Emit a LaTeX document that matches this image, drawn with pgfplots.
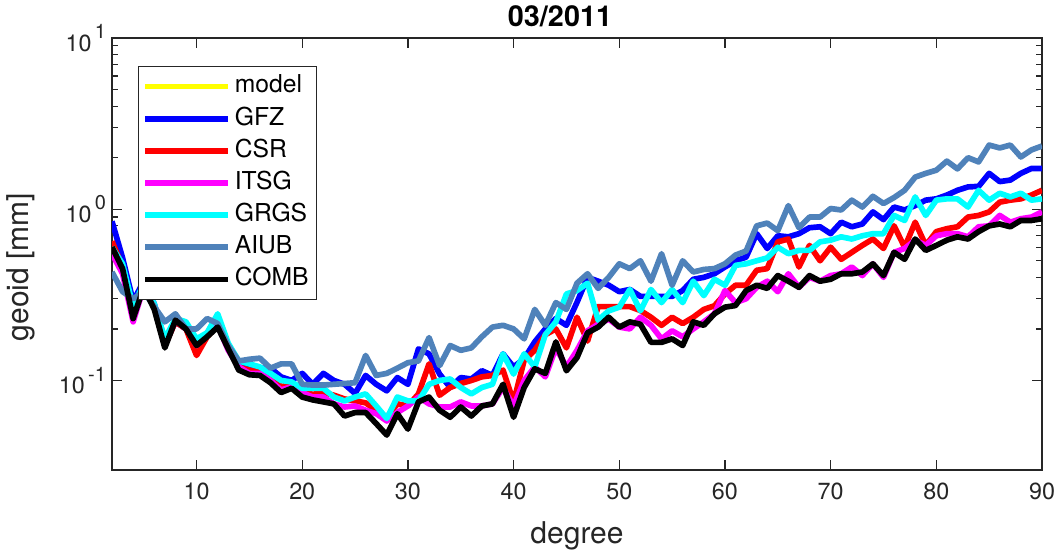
\documentclass[border=0pt]{standalone}
\usepackage{fontspec}
\setmainfont{TeX Gyre Heros}
\usepackage{pgfplots}
\usepackage{pgfplotstable}
\pgfplotsset{compat=1.18}
\definecolor{aiub}{rgb}{0.31,0.51,0.73}
\definecolor{axgray}{rgb}{0.15,0.15,0.15}
\definecolor{cblue}{rgb}{0,0,1}
\definecolor{cred}{rgb}{1,0,0}
\definecolor{cmag}{rgb}{1,0,1}
\definecolor{ccya}{rgb}{0,1,1}
\definecolor{cyel}{rgb}{1,1,0}
\newcommand{\sptick}[1]{10\kern2.5pt\raisebox{9.5pt}{\fontsize{15}{16}\selectfont #1}}

\pgfplotstableread{
d gfz csr itsg grgs aiub comb
2 0.85 0.65 0.55 0.60 0.43 0.60
3 0.52 0.46 0.42 0.48 0.33 0.45
4 0.29 0.24 0.22 0.27 0.30 0.23
5 0.38 0.36 0.35 0.37 0.33 0.35
6 0.28 0.27 0.27 0.28 0.27 0.26
7 0.17 0.16 0.16 0.175 0.22 0.155
8 0.22 0.22 0.225 0.23 0.245 0.225
9 0.20 0.20 0.21 0.22 0.20 0.20
10 0.165 0.14 0.16 0.175 0.20 0.16
11 0.185 0.18 0.19 0.19 0.23 0.18
12 0.21 0.21 0.21 0.245 0.215 0.205
13 0.16 0.155 0.15 0.165 0.16 0.153
14 0.125 0.12 0.12 0.13 0.13 0.115
15 0.12 0.115 0.11 0.125 0.133 0.108
16 0.118 0.112 0.11 0.12 0.135 0.107
17 0.118 0.105 0.10 0.11 0.118 0.097
18 0.105 0.092 0.088 0.10 0.125 0.085
19 0.10 0.095 0.092 0.098 0.125 0.09
20 0.11 0.086 0.085 0.09 0.095 0.08
21 0.095 0.083 0.08 0.09 0.094 0.077
22 0.11 0.085 0.08 0.09 0.094 0.075
23 0.10 0.082 0.073 0.08 0.095 0.073
24 0.095 0.078 0.07 0.076 0.096 0.062
25 0.084 0.076 0.071 0.08 0.097 0.065
26 0.107 0.074 0.067 0.0835 0.14 0.065
27 0.095 0.067 0.064 0.071 0.107 0.056
28 0.087 0.061 0.058 0.06 0.11 0.048
29 0.104 0.073 0.065 0.08 0.118 0.064
30 0.095 0.071 0.071 0.076 0.127 0.052
31 0.153 0.0835 0.08 0.076 0.13 0.075
32 0.143 0.125 0.073 0.095 0.178 0.08
33 0.109 0.082 0.07 0.10 0.122 0.067
34 0.091 0.091 0.07 0.102 0.16 0.061
35 0.104 0.096 0.075 0.091 0.15 0.07
36 0.102 0.10 0.071 0.0835 0.155 0.062
37 0.114 0.105 0.071 0.091 0.18 0.071
38 0.107 0.107 0.073 0.095 0.205 0.073
39 0.143 0.115 0.091 0.143 0.21 0.095
40 0.12 0.075 0.071 0.109 0.20 0.061
41 0.134 0.131 0.10 0.143 0.175 0.091
42 0.168 0.15 0.12 0.12 0.26 0.117
43 0.20 0.185 0.105 0.185 0.21 0.11
44 0.23 0.20 0.155 0.22 0.285 0.168
45 0.21 0.155 0.12 0.32 0.26 0.114
46 0.286 0.234 0.15 0.335 0.37 0.136
47 0.40 0.17 0.195 0.37 0.42 0.19
48 0.38 0.27 0.213 0.225 0.345 0.205
49 0.36 0.27 0.228 0.255 0.40 0.234
50 0.33 0.27 0.205 0.268 0.48 0.205
51 0.34 0.27 0.20 0.34 0.45 0.22
52 0.31 0.256 0.234 0.255 0.50 0.213
53 0.31 0.234 0.21 0.34 0.38 0.167
54 0.31 0.21 0.175 0.285 0.55 0.167
55 0.31 0.234 0.195 0.34 0.36 0.175
56 0.335 0.215 0.18 0.285 0.50 0.16
57 0.39 0.234 0.20 0.38 0.43 0.22
58 0.40 0.26 0.22 0.313 0.445 0.21
59 0.42 0.273 0.245 0.39 0.45 0.245
60 0.46 0.32 0.335 0.36 0.48 0.268
61 0.50 0.36 0.285 0.47 0.54 0.274
62 0.525 0.36 0.30 0.48 0.57 0.335
63 0.72 0.44 0.35 0.50 0.80 0.36
64 0.59 0.45 0.38 0.52 0.83 0.345
65 0.70 0.645 0.33 0.60 0.75 0.41
66 0.69 0.67 0.42 0.55 1.05 0.38
67 0.72 0.46 0.35 0.575 0.78 0.35
68 0.78 0.615 0.40 0.575 0.90 0.41
69 0.79 0.50 0.38 0.645 0.90 0.38
70 0.72 0.60 0.41 0.66 1.01 0.39
71 0.84 0.51 0.42 0.69 0.99 0.42
72 0.79 0.56 0.46 0.67 1.13 0.42
73 0.82 0.615 0.41 0.70 1.03 0.43
74 0.965 0.67 0.48 0.72 1.19 0.48
75 0.87 0.59 0.40 0.72 1.08 0.41
76 1.03 0.80 0.56 0.92 1.17 0.56
77 0.99 0.60 0.59 0.86 1.29 0.51
78 1.05 0.84 0.66 1.18 1.54 0.67
79 1.13 0.615 0.615 0.92 1.62 0.575
80 1.15 0.74 0.70 1.13 1.69 0.615
81 1.21 0.77 0.72 1.15 1.91 0.66
82 1.29 0.79 0.72 1.15 1.72 0.69
83 1.35 0.90 0.69 1.03 2.0 0.67
84 1.36 0.92 0.79 1.29 1.89 0.74
85 1.62 0.965 0.80 1.13 2.37 0.80
86 1.45 1.10 0.92 1.24 2.28 0.82
87 1.48 1.13 0.84 1.18 2.37 0.79
88 1.62 1.15 0.88 1.24 2.02 0.86
89 1.73 1.21 0.90 1.13 2.22 0.86
90 1.73 1.29 0.965 1.15 2.34 0.88
}\data

\begin{document}
\begin{tikzpicture}
\begin{axis}[
  name=ax,
  scale only axis,
  width=697.5pt, height=324pt,
  ymode=log,
  xmin=2, xmax=90, ymin=0.03, ymax=10,
  xtick={10,20,...,90},
  ytick={0.1,1,10},
  yticklabels={\sptick{-1},\sptick{0},\sptick{1}},
  /pgf/number format/assume math mode=true,
  tick label style={font=\fontsize{17.5}{19}\selectfont, text=axgray},
  xticklabel style={yshift=-6pt},
  yticklabel style={xshift=-1pt},
  axis line style={draw=axgray, line width=0.9pt},
  major tick length=7.5pt,
  minor tick length=4.5pt,
  tick align=inside,
  xtick pos=both, ytick pos=both,
  every tick/.append style={axgray, line width=0.9pt},
  xlabel={degree},
  ylabel={geoid [mm]},
  label style={font=\fontsize{22.5}{24}\selectfont, text=axgray},
  xlabel style={at={(axis description cs:0.5,-0.118)}, anchor=north, inner sep=0pt},
  ylabel style={at={(axis description cs:-0.083,0.47)}, anchor=south, inner sep=0pt},
  title={\bfseries 03/2011},
  title style={font=\fontsize{21.6}{23}\selectfont, text=black, at={(axis description cs:0.5,1)}, anchor=base, yshift=2.25pt, xshift=-12.75pt, inner sep=0pt},
  legend style={at={(0.028,0.935)}, anchor=north west, draw=axgray, line width=0.75pt,
    font=\fontsize{18.5}{20}\selectfont, inner xsep=3pt, inner ysep=3pt,
    nodes={text height=13.5pt, text depth=4pt, inner ysep=3.3pt, inner xsep=3pt}},
  legend cell align=left,
  legend image code/.code={\draw[#1] (0pt,0pt) -- (62pt,0pt);},
  every axis plot/.append style={line width=4.25pt, line join=round},
]
\addlegendimage{cyel, line width=4.25pt}
\addlegendentry{model}
\addplot[cblue] table[x=d, y=gfz] {\data};
\addlegendentry{GFZ}
\addplot[cred] table[x=d, y=csr] {\data};
\addlegendentry{CSR}
\addplot[cmag] table[x=d, y=itsg] {\data};
\addlegendentry{ITSG}
\addplot[ccya] table[x=d, y=grgs] {\data};
\addlegendentry{GRGS}
\addplot[aiub] table[x=d, y=aiub] {\data};
\addlegendentry{AIUB}
\addplot[black] table[x=d, y=comb] {\data};
\addlegendentry{COMB}
\end{axis}
\pgfresetboundingbox
\path[use as bounding box] ([shift={(-84pt,-64.5pt)}]ax.south west) rectangle ([shift={(10.5pt,28.5pt)}]ax.north east);
\end{tikzpicture}
\end{document}
